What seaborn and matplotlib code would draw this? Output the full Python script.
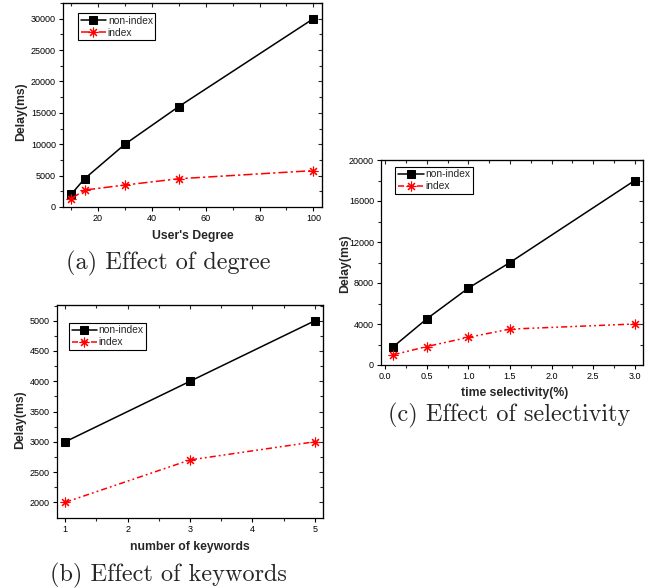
import numpy as np
import pandas as pd
import matplotlib
matplotlib.use("Agg")
import matplotlib.pyplot as plt
import seaborn as sns

# ---- data ----
deg_x = [10, 15, 30, 50, 100]
deg_nonindex = [2000, 4500, 10000, 16000, 30000]
deg_index = [1300, 2700, 3500, 4500, 5800]

kw_x = [1, 3, 5]
kw_nonindex = [3000, 4000, 5000]
kw_index = [2000, 2700, 3000]

sel_x = [0.1, 0.5, 1.0, 1.5, 3.0]
sel_nonindex = [1800, 4500, 7500, 10000, 18000]
sel_index = [1000, 1800, 2700, 3500, 4000]

series_labels = ["non-index", "index"]
captions = ["(a) Effect of degree", "(b) Effect of keywords", "(c) Effect of selectivity"]
xlabels = ["User's Degree", "number of keywords", "time selectivity(%)"]
ylabel = "Delay(ms)"

sns.set_style("ticks")
plt.rcParams["font.family"] = ["Liberation Sans", "DejaVu Sans"]

W, H = 657, 588
fig = plt.figure(figsize=(W / 100, H / 100), dpi=100)


def px_axes(l, t, r, b):
    return fig.add_axes([l / W, 1 - b / H, (r - l) / W, (b - t) / H])


ax_a = px_axes(63, 3, 322, 207)
ax_b = px_axes(57, 305, 323, 518)
ax_c = px_axes(381, 160, 643, 365)


def draw(ax, x, y1, y2, dash):
    sns.lineplot(x=x, y=y1, ax=ax, color="black", marker="s", markersize=6,
                 markeredgecolor="black", linewidth=1.1, label=series_labels[0])
    sns.lineplot(x=x, y=y2, ax=ax, color="red", marker=(8, 2, 0), markersize=7,
                 markeredgecolor="red", markeredgewidth=0.8, linewidth=1.1,
                 linestyle=dash, label=series_labels[1])


def style(ax, xlim, ylim, xmaj, xmin, ymaj, ymin, xlab, xl_coords, yl_coords, leg_xy, xfmt=None):
    ax.set_xlim(*xlim)
    ax.set_ylim(*ylim)
    ax.set_xticks(xmaj)
    ax.set_xticks(xmin, minor=True)
    ax.set_yticks(ymaj)
    ax.set_yticks(ymin, minor=True)
    if xfmt:
        ax.set_xticklabels([xfmt.format(v) for v in xmaj])
    for s in ax.spines.values():
        s.set_visible(True)
        s.set_linewidth(0.9)
        s.set_color("black")
    ax.tick_params(which="major", direction="out", length=3, width=0.8, labelsize=6.5,
                   pad=2, colors="black")
    ax.tick_params(which="minor", direction="out", length=2, width=0.8)
    ax.set_xlabel(xlab, fontsize=8.8, fontweight="bold", va="center")
    ax.set_ylabel(ylabel, fontsize=8.8, fontweight="bold", va="center")
    ax.xaxis.set_label_coords(*xl_coords)
    ax.yaxis.set_label_coords(*yl_coords)
    # inward ticks on top and right
    sx = ax.secondary_xaxis("top")
    sx.set_xticks(xmaj)
    sx.set_xticks(xmin, minor=True)
    sx.tick_params(which="both", direction="in", labeltop=False, width=0.8)
    sx.tick_params(which="major", length=3)
    sx.tick_params(which="minor", length=2)
    sy = ax.secondary_yaxis("right")
    sy.set_yticks(ymaj)
    sy.set_yticks(ymin, minor=True)
    sy.tick_params(which="both", direction="in", labelright=False, width=0.8)
    sy.tick_params(which="major", length=3)
    sy.tick_params(which="minor", length=2)
    leg = ax.legend(loc="upper left", bbox_to_anchor=leg_xy, frameon=True, fancybox=False,
                    edgecolor="black", framealpha=1, fontsize=7.4, borderpad=0.25,
                    labelspacing=0.2, handlelength=2.5, handletextpad=0.15,
                    borderaxespad=0)
    leg.get_frame().set_linewidth(0.8)


draw(ax_a, deg_x, deg_nonindex, deg_index, (0, (6, 2, 1.5, 2)))
style(ax_a, (7, 103.2), (0, 32500), [20, 40, 60, 80, 100], list(range(10, 101, 10)),
      list(range(0, 30001, 5000)), list(range(0, 32501, 2500)), xlabels[0],
      (0.5, -0.142), (-0.16, 0.466), (0.058, 0.951))

draw(ax_b, kw_x, kw_nonindex, kw_index, (0, (4, 2, 1.2, 2, 1.2, 2)))
style(ax_b, (0.867, 5.13), (1740, 5260), [1, 2, 3, 4, 5], list(np.arange(1, 5.01, 0.5)),
      list(range(2000, 5001, 500)), list(range(2000, 5251, 250)), xlabels[1],
      (0.5, -0.138), (-0.139, 0.46), (0.045, 0.917))

draw(ax_c, sel_x, sel_nonindex, sel_index, (0, (4, 2, 1.2, 2, 1.2, 2)))
style(ax_c, (-0.05, 3.1), (0, 20000), [0, 0.5, 1.0, 1.5, 2.0, 2.5, 3.0],
      list(np.arange(0, 3.01, 0.25)), list(range(0, 20001, 4000)),
      list(range(0, 20001, 2000)), xlabels[2],
      (0.51, -0.138), (-0.136, 0.493), (0.0545, 0.967), xfmt="{:.1f}")

cap_pos = [(168.5, 263), (168.5, 575), (509, 415)]
for (cx, cy), cap in zip(cap_pos, captions):
    fig.text(cx / W, 1 - cy / H, cap, ha="center", va="center", fontsize=17.5,
             family=["cmr10", "DejaVu Serif"])

fig.savefig("out.png", dpi=100)
